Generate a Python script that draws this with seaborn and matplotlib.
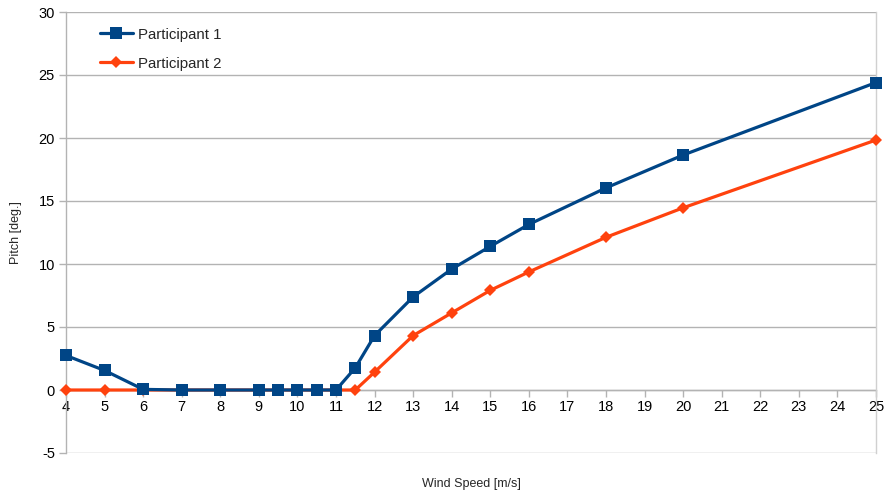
import matplotlib
matplotlib.use("Agg")
import matplotlib.pyplot as plt
import seaborn as sns
import pandas as pd

wind_speed = [4, 5, 6, 7, 8, 9, 9.5, 10, 10.5, 11, 11.5, 12, 13, 14, 15, 16, 18, 20, 25]
participant_1 = [2.74, 1.55, 0.05, 0, 0, 0, 0, 0, 0, 0, 1.76, 4.32, 7.39, 9.6, 11.4, 13.14, 16.04, 18.65, 24.4]
participant_2 = [0, 0, 0, 0, 0, 0, 0, 0, 0, 0, 0, 1.42, 4.32, 6.12, 7.91, 9.37, 12.12, 14.46, 19.84]
series_names = ["Participant 1", "Participant 2"]
x_ticks = list(range(4, 26))
y_ticks = list(range(-5, 31, 5))

df = pd.DataFrame({
    "Wind Speed": wind_speed * 2,
    "Pitch": participant_1 + participant_2,
    "Series": [series_names[0]] * len(wind_speed) + [series_names[1]] * len(wind_speed),
})

sns.set_theme(style="white")
plt.rcParams["font.family"] = ["Liberation Sans", "DejaVu Sans"]
plt.rcParams["axes.unicode_minus"] = False

fig = plt.figure(figsize=(8.87, 4.91), dpi=100)
ax = fig.add_axes([66 / 887, 1 - 453 / 491, 810 / 887, 441 / 491])

palette = {series_names[0]: "#004586", series_names[1]: "#ff420e"}
sns.lineplot(data=df, x="Wind Speed", y="Pitch", hue="Series", style="Series",
             markers={series_names[0]: "s", series_names[1]: "D"}, dashes=False,
             palette=palette, linewidth=2.3, markersize=8.5, markeredgewidth=0,
             ax=ax, clip_on=False)

# first series sits on top; second series gets a smaller diamond
lines = ax.get_lines()
for line in lines:
    if line.get_marker() == "D":
        line.set_markersize(6.2)
        line.set_zorder(3)
    elif line.get_marker() == "s":
        line.set_zorder(4)

ax.set_xlim(4, 25)
ax.set_ylim(-5, 30)
ax.set_xticks(x_ticks)
ax.set_yticks(y_ticks)
ax.yaxis.grid(True, color="#b3b3b3", linewidth=1)
ax.set_axisbelow(True)

grid_col = "#b3b3b3"
ax.spines["top"].set_visible(False)
ax.spines["right"].set_color("#d0d0d0")
ax.spines["right"].set_linewidth(1)
ax.spines["left"].set_color(grid_col)
ax.spines["left"].set_linewidth(1)
ax.spines["bottom"].set_position(("data", 0))
ax.spines["bottom"].set_color(grid_col)
ax.spines["bottom"].set_linewidth(1)
ax.spines["bottom"].set_zorder(1)

ax.tick_params(axis="both", which="major", labelsize=10.5, colors="black",
               length=5, width=1, direction="out")
ax.tick_params(axis="x", color=grid_col, pad=2)
ax.tick_params(axis="y", color=grid_col, pad=3)
ax.xaxis.set_ticks_position("bottom")
ax.yaxis.set_ticks_position("left")

ax.set_xlabel("Wind Speed [m/s]", fontsize=9)
ax.set_ylabel("Pitch [deg.]", fontsize=9)
ax.xaxis.set_label_coords(0.5, -0.056)
ax.yaxis.set_label_coords(-0.054, 0.5)

handles, labels = ax.get_legend_handles_labels()
ax.legend(handles, labels, loc="upper left", bbox_to_anchor=(0.034, 0.978),
          frameon=False, fontsize=10.8, handlelength=2.2, handletextpad=0.35,
          labelspacing=1.0, borderaxespad=0)

fig.savefig("out.png", dpi=100)
